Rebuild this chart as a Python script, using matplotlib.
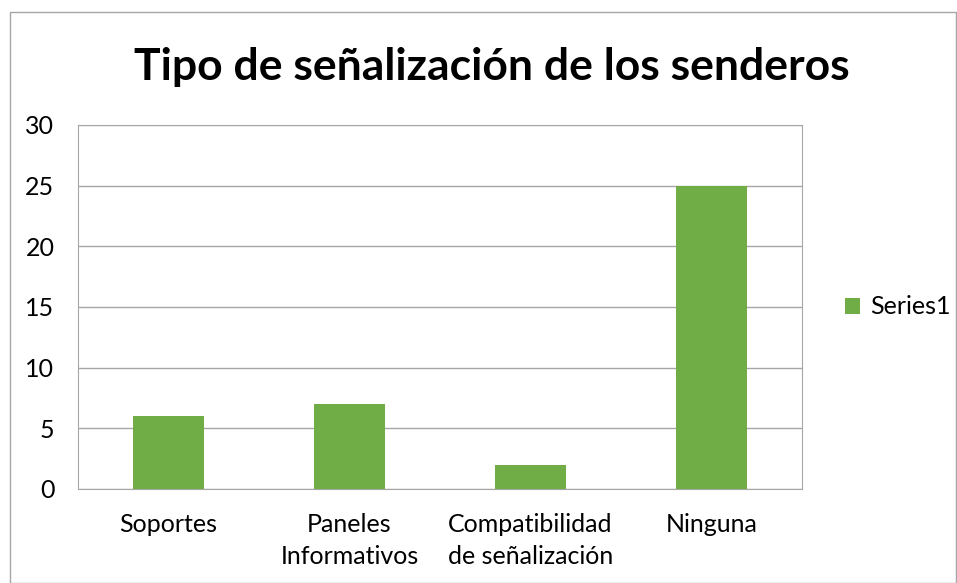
import matplotlib.pyplot as plt
from matplotlib.patches import Rectangle

categorias = ["Soportes", "Paneles\nInformativos", "Compatibilidad\nde señalización", "Ninguna"]
valores = [6, 7, 2, 25]
serie = "Series1"

plt.rcParams['font.family'] = ['Lato', 'DejaVu Sans']

fig = plt.figure(figsize=(9.57, 5.83), dpi=100)
ax = fig.add_axes([78/957, 1 - 489/583, 724/957, 364/583])

x = range(len(categorias))
ax.bar(x, valores, width=0.39, color="#70AD47", label=serie, zorder=3)

ax.set_xlim(-0.5, len(categorias) - 0.5)
ax.set_ylim(0, 30)
ax.set_yticks(range(0, 31, 5))
ax.set_xticks(list(x))
ax.set_xticklabels(categorias, fontsize=18, linespacing=1.5)
ax.tick_params(axis='y', labelsize=18, length=0, pad=17)
ax.tick_params(axis='x', length=0, pad=17)
ax.grid(axis='y', color="#A6A6A6", linewidth=1, zorder=0)
for s in ax.spines.values():
    s.set_color("#A6A6A6")

fig.text(492/957, 1 - 67/583, "Tipo de señalización de los senderos", ha='center', va='center',
         fontsize=32, fontweight='bold')

ax.legend(loc='center left', bbox_to_anchor=(1.042, 0.5), frameon=False, fontsize=18,
          handlelength=0.6, handleheight=0.6, handletextpad=0.4, borderpad=0)

fig.patches.append(Rectangle((10/957, 0), 1 - 11/957, 1 - 12/583, transform=fig.transFigure,
                             fill=False, edgecolor="#A6A6A6", linewidth=1))

fig.savefig("out.png", dpi=100)
